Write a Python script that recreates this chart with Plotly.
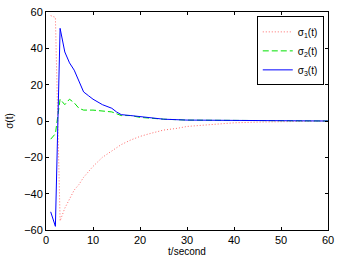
import plotly.graph_objects as go

# sigma_1 (red dotted)
t1 = [1, 2, 3, 4, 5, 6, 7, 8, 9, 10, 12, 14, 16, 18, 20, 22, 25, 28, 30, 35, 40, 45, 50, 55, 60]
s1 = [58, 57, -55, -48, -43, -38, -35, -31, -28, -25, -20, -16.5, -13, -10.5, -8.5, -7, -5, -4, -3, -2, -1, -0.6, -0.3, -0.1, 0]

# sigma_2 (green dashed)
t2 = [1, 2, 3, 4, 5, 6, 7, 8, 10, 12, 14, 16, 18, 20, 25, 30, 40, 50, 60]
s2 = [-10, -7, 12, 9, 12, 10, 7, 6, 6, 5.5, 5, 3, 3, 2, 1, 0.5, 0.2, 0, 0]

# sigma_3 (blue solid)
t3 = [1, 2, 3, 4, 5, 6, 7, 8, 9, 10, 12, 13, 14, 15, 16, 18, 20, 22, 25, 30, 40, 50, 60]
s3 = [-50, -58, 51, 38, 32, 28, 22, 16, 14, 12, 9, 8, 7, 5, 3.5, 3, 2.5, 2, 1, 0.5, 0.2, 0.1, 0]

x_ticks = [0, 10, 20, 30, 40, 50, 60]
y_ticks = [-60, -40, -20, 0, 20, 40, 60]

fig = go.Figure()
fig.add_trace(go.Scatter(x=t1, y=s1, mode="lines", name="σ<sub>1</sub>(t)",
                         line=dict(color="#ff6a6a", dash="1px,2px", width=1)))
fig.add_trace(go.Scatter(x=t2, y=s2, mode="lines", name="σ<sub>2</sub>(t)",
                         line=dict(color="#00e000", dash="6px,3px", width=1)))
fig.add_trace(go.Scatter(x=t3, y=s3, mode="lines", name="σ<sub>3</sub>(t)",
                         line=dict(color="#0000ff", width=1)))

axis_common = dict(showgrid=False, zeroline=False, showline=True, linecolor="black",
                   linewidth=1, mirror="ticks", ticks="inside", ticklen=3,
                   tickcolor="black", tickfont=dict(size=11, color="black"),
                   automargin=False)

fig.update_layout(
    width=340, height=260,
    margin=dict(l=46, r=12, t=12, b=30),
    paper_bgcolor="white", plot_bgcolor="white",
    font=dict(family="Liberation Sans, Arial, sans-serif", size=11, color="black"),
    xaxis=dict(range=[0, 60], tickvals=x_ticks, **axis_common,
               title=dict(text="t/second", font=dict(size=10), standoff=0)),
    yaxis=dict(range=[-60, 60], tickvals=y_ticks, **axis_common,
               title=dict(text="σ(t)", font=dict(size=10), standoff=8)),
    legend=dict(x=0.985, y=0.98, xanchor="right", yanchor="top",
                bgcolor="white", bordercolor="black", borderwidth=1,
                font=dict(size=10), tracegroupgap=0, itemwidth=30),
    showlegend=True,
)

fig.write_html("out.html", config={"displayModeBar": False},
               post_script="document.body.style.margin='0';")
